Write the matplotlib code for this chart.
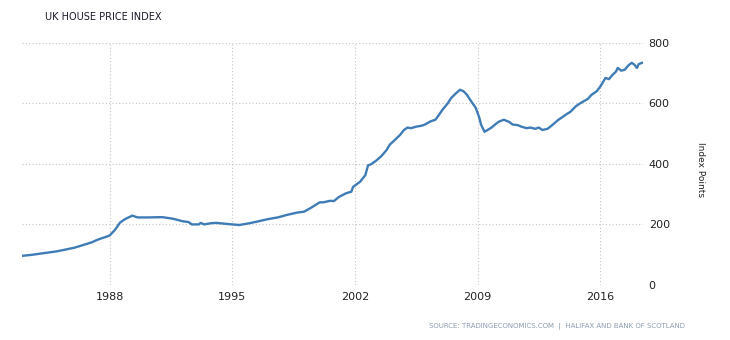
import numpy as np
import matplotlib.pyplot as plt

# UK house price index (Halifax), index points
years = [1983.0, 1983.5, 1984.0, 1984.5, 1985.0, 1985.5, 1986.0, 1986.5, 1987.0, 1987.3,
         1987.6, 1988.0, 1988.3, 1988.6, 1988.9, 1989.3, 1989.6, 1990.2, 1991.0, 1991.6,
         1992.2, 1992.5, 1992.7, 1993.1, 1993.2, 1993.4, 1993.8, 1994.1, 1994.8, 1995.4,
         1996.0, 1996.4, 1997.0, 1997.6, 1998.1, 1998.7, 1999.1, 1999.5, 1999.8, 2000.0,
         2000.2, 2000.6, 2000.8, 2001.1, 2001.5, 2001.8, 2001.9, 2002.3, 2002.6, 2002.75,
         2002.9, 2003.2, 2003.5, 2003.8, 2004.0, 2004.3, 2004.6, 2004.8, 2005.0, 2005.2,
         2005.5, 2005.8, 2006.0, 2006.3, 2006.6, 2006.8, 2007.0, 2007.3, 2007.5, 2007.8,
         2008.0, 2008.2, 2008.4, 2008.6, 2008.9, 2009.1, 2009.2, 2009.4, 2009.6, 2009.8,
         2010.0, 2010.2, 2010.5, 2010.7, 2010.8, 2011.0, 2011.3, 2011.5, 2011.8, 2012.0,
         2012.3, 2012.5, 2012.7, 2013.0, 2013.3, 2013.6, 2013.8, 2014.1, 2014.3, 2014.6,
         2014.8, 2015.0, 2015.3, 2015.5, 2015.8, 2016.0, 2016.3, 2016.5, 2016.7, 2016.9,
         2017.0, 2017.2, 2017.4, 2017.6, 2017.8, 2017.95, 2018.1, 2018.2, 2018.4]
index = [96, 99, 103, 107, 111, 117, 123, 132, 141, 149,
         155, 163, 181, 206, 218, 229, 223, 223, 224, 219,
         210, 208, 200, 200, 205, 200, 204, 205, 201, 198,
         204, 209, 217, 223, 231, 239, 242, 255, 266, 273,
         273, 278, 277, 291, 303, 308, 324, 341, 363, 395,
         398, 410, 425, 445, 464, 480, 497, 512, 520, 518,
         523, 526, 530, 540, 546, 562, 579, 600, 618, 635,
         645, 640, 628, 610, 585, 553, 530, 506, 513, 520,
         530, 539, 546, 541, 539, 530, 528, 523, 518, 520,
         516, 520, 512, 516, 530, 545, 553, 565, 572, 590,
         598, 605, 615, 628, 640, 655, 684, 680, 694, 705,
         717, 708, 711, 725, 734, 728, 717, 730, 734]

xticks = [1988, 1995, 2002, 2009, 2016]
yticks = [0, 200, 400, 600, 800]

fig = plt.figure(figsize=(7.3, 3.4), dpi=100)
ax = fig.add_axes([0.030, 0.162, 0.851, 0.712])

ax.plot(years, index, color='#3f7cb6', lw=1.7)

ax.set_xlim(1983.0, 2018.45)
ax.set_ylim(0, 800)
ax.set_xticks(xticks)
ax.set_yticks(yticks)
ax.grid(True, color='#c4c4c4', ls=(0, (1, 2)), lw=0.8)
ax.set_axisbelow(True)
for s in ax.spines.values():
    s.set_visible(False)

ax.yaxis.tick_right()
ax.tick_params(length=0, labelsize=8, colors='#222222')
ax.tick_params(axis='y', pad=4)
ax.tick_params(axis='x', pad=5)

fig.text(45 / 730, 1 - 17 / 340, 'UK HOUSE PRICE INDEX', fontsize=7, color='#1a1a2a',
         va='center', ha='left')
fig.text(700 / 730, 1 - 170 / 340, 'Index Points', fontsize=6.5, color='#222222',
         rotation=-90, va='center', ha='center')
fig.text(685 / 730, 1 - 326 / 340,
         'SOURCE: TRADINGECONOMICS.COM  |  HALIFAX AND BANK OF SCOTLAND',
         fontsize=5, color='#8c9cb0', va='center', ha='right')

fig.savefig('out.png', dpi=100)
